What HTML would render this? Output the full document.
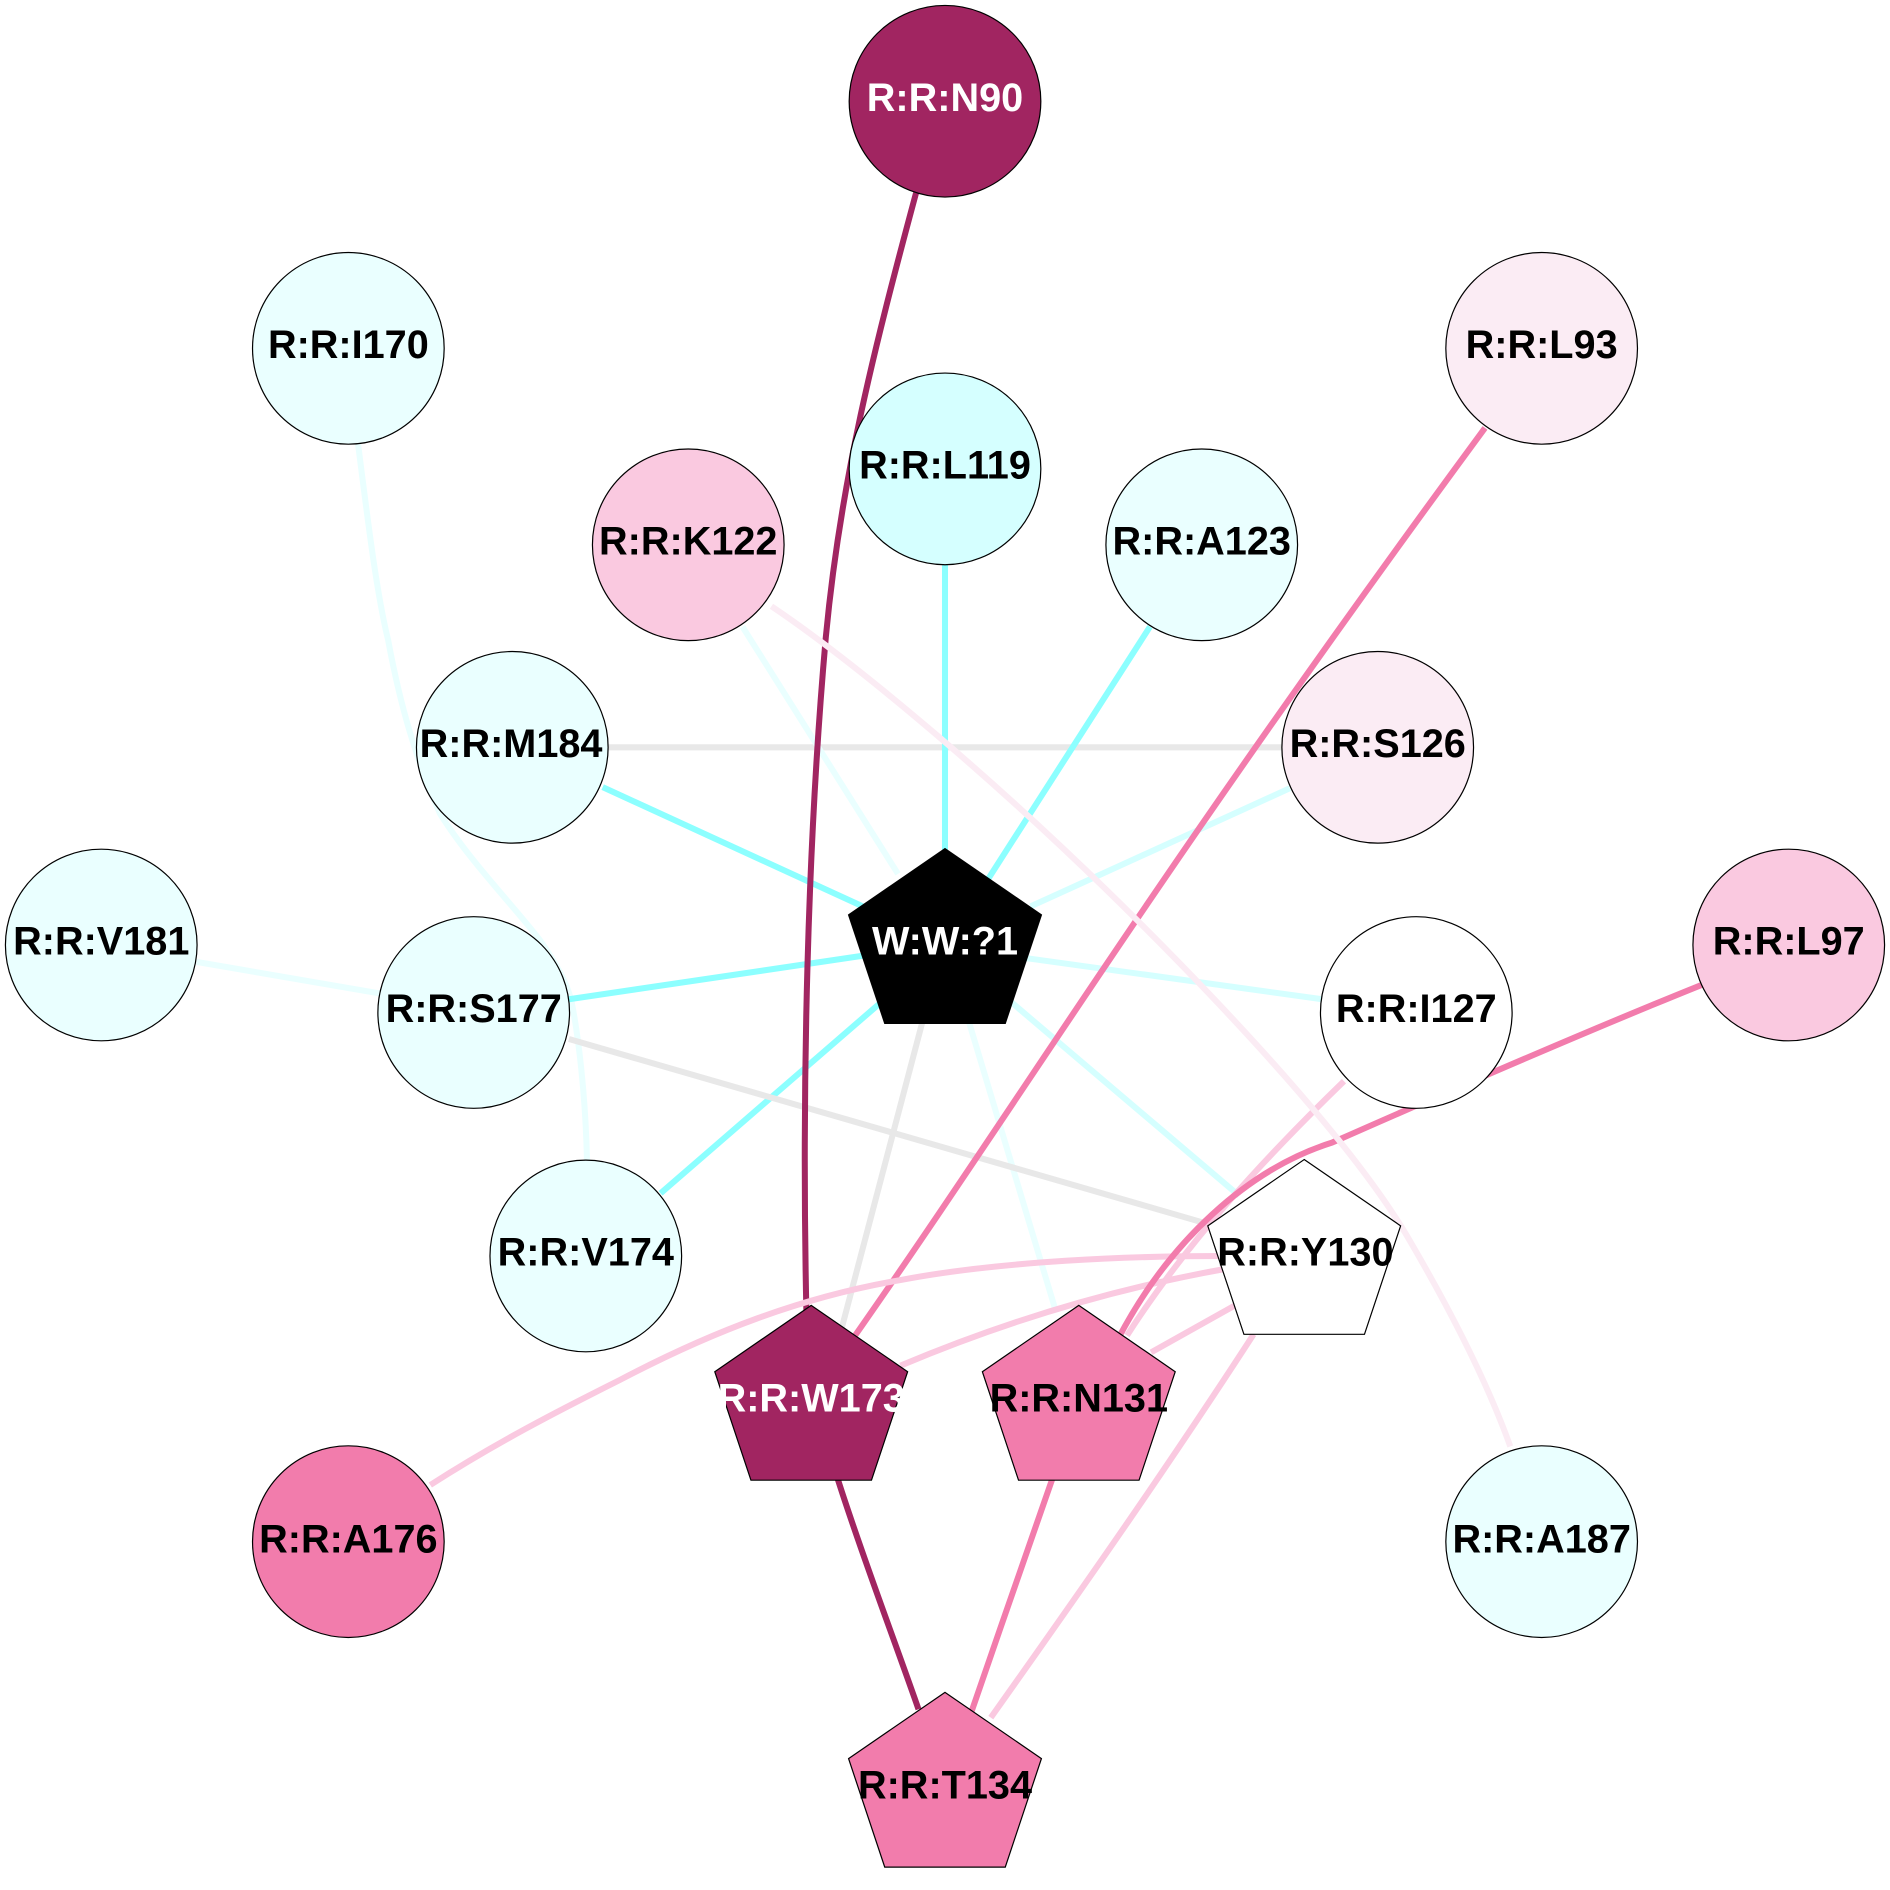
<!DOCTYPE html>
<html>
<head>
<meta charset="utf-8">
<style>
html,body{margin:0;padding:0;background:#fff}
svg{display:block}
text{font-family:"Liberation Sans",Arial,sans-serif;font-weight:bold;font-size:32.9px;text-anchor:middle;fill:#000}
.e{fill:none;stroke-width:5}
.n{stroke:#000;stroke-width:1}
</style>
</head>
<body>
<svg width="1890" height="1890" viewBox="0 0 1568 1568" xmlns="http://www.w3.org/2000/svg">
<rect width="1568" height="1568" fill="#fff"/>
<g class="edges">
<path class="e" stroke="#eaffff" d="M297,368 C305,430 312,490 322,531 C332,585 345,630 365,675 C390,715 425,750 448,780 C462,800 470,815 474,830 C480,860 486,910 487,965"/>
<path class="e" stroke="#eaffff" d="M163,798 L320,825"/>
<path class="e" stroke="#e8e8e8" d="M500,620 L1068,620"/>
<path class="e" stroke="#8cffff" d="M500,653 L718,753"/>
<path class="e" stroke="#8cffff" d="M784,468 L784,710"/>
<path class="e" stroke="#8cffff" d="M954,520 L818,732"/>
<path class="e" stroke="#eaffff" d="M616,520 L745,725"/>
<path class="e" stroke="#d5ffff" d="M1070,654 L855,752"/>
<path class="e" stroke="#8cffff" d="M472,829 L722,792"/>
<path class="e" stroke="#d5ffff" d="M1097,829 L845,794"/>
<path class="e" stroke="#8cffff" d="M548,990 L735,828"/>
<path class="e" stroke="#d5ffff" d="M835,828 L1028,992"/>
<path class="e" stroke="#eaffff" d="M803,845 L876,1088"/>
<path class="e" stroke="#e8e8e8" d="M766,845 L693,1122"/>
<path class="e" stroke="#e8e8e8" d="M472,862 L1018,1020"/>
<path class="e" stroke="#fac9e0" d="M1115,897 C1050,960 985,1030 935,1108"/>
<path class="e" stroke="#f27cac" d="M1232,355 C1140,480 1040,620 945,760 C860,885 785,1000 708,1110"/>
<path class="e" stroke="#a12561" d="M760,160 C725,290 697,400 685,530 C670,700 665,900 669,1088"/>
<path class="e" stroke="#fac9e0" d="M1015,1053 C920,1070 830,1098 747,1133"/>
<path class="e" stroke="#fac9e0" d="M1030,1080 L955,1122"/>
<path class="e" stroke="#fac9e0" d="M1015,1042 C940,1042 830,1046 747,1062 C665,1076 590,1105 514,1145 C460,1172 410,1198 357,1232"/>
<path class="e" stroke="#fac9e0" d="M1040,1107 C970,1215 900,1315 822,1425"/>
<path class="e" stroke="#f27cac" d="M1412,817 C1330,850 1225,895 1105,948 C1035,970 970,1030 928,1110"/>
<path class="e" stroke="#fbecf4" d="M640,503 C710,550 830,650 945,765 C1040,860 1130,960 1170,1030 C1205,1090 1235,1150 1253,1200"/>
<path class="e" stroke="#a12561" d="M695,1227 C715,1290 740,1355 762,1418"/>
<path class="e" stroke="#f27cac" d="M873,1227 C850,1295 828,1355 806,1420"/>
</g>
<g class="nodes">
<circle class="n" cx="784" cy="84" r="79.5" fill="#a12561"/>
<circle class="n" cx="289" cy="289" r="79.5" fill="#eaffff"/>
<circle class="n" cx="1279" cy="289" r="79.5" fill="#fbecf4"/>
<circle class="n" cx="784" cy="389" r="79.5" fill="#d5ffff"/>
<circle class="n" cx="571" cy="452" r="79.5" fill="#fac9e0"/>
<circle class="n" cx="997" cy="452" r="79.5" fill="#eaffff"/>
<circle class="n" cx="425" cy="620" r="79.5" fill="#eaffff"/>
<circle class="n" cx="1143" cy="620" r="79.5" fill="#fbecf4"/>
<circle class="n" cx="84" cy="784" r="79.5" fill="#eaffff"/>
<circle class="n" cx="1484" cy="784" r="79.5" fill="#fac9e0"/>
<circle class="n" cx="393" cy="840" r="79.5" fill="#eaffff"/>
<circle class="n" cx="1175" cy="840" r="79.5" fill="#ffffff"/>
<circle class="n" cx="486" cy="1042" r="79.5" fill="#eaffff"/>
<circle class="n" cx="289" cy="1279" r="79.5" fill="#f27cac"/>
<circle class="n" cx="1279" cy="1279" r="79.5" fill="#eaffff"/>
<polygon class="n" points="784,704 864,759 834,849 734,849 704,759" fill="#000"/>
<polygon class="n" points="1082,962 1162,1017 1132,1107 1032,1107 1002,1017" fill="#fff"/>
<polygon class="n" points="673,1083 753,1138 723,1228 623,1228 593,1138" fill="#a12561"/>
<polygon class="n" points="895,1083 975,1138 945,1228 845,1228 815,1138" fill="#f27cac"/>
<polygon class="n" points="784,1404 864,1459 834,1549 734,1549 704,1459" fill="#f27cac"/>
</g>
<g class="labels">
<text x="784" y="92" style="fill:#fff">R:R:N90</text>
<text x="289" y="297">R:R:I170</text>
<text x="1279" y="297">R:R:L93</text>
<text x="784" y="397">R:R:L119</text>
<text x="571" y="460">R:R:K122</text>
<text x="997" y="460">R:R:A123</text>
<text x="424" y="628">R:R:M184</text>
<text x="1143" y="628">R:R:S126</text>
<text x="84" y="792">R:R:V181</text>
<text x="1484" y="792">R:R:L97</text>
<text x="784" y="792" style="fill:#fff">W:W:?1</text>
<text x="393" y="848">R:R:S177</text>
<text x="1175" y="848">R:R:I127</text>
<text x="486" y="1050">R:R:V174</text>
<text x="1083" y="1050">R:R:Y130</text>
<text x="673" y="1171" style="fill:#fff">R:R:W173</text>
<text x="895" y="1171">R:R:N131</text>
<text x="289" y="1288">R:R:A176</text>
<text x="1279" y="1288">R:R:A187</text>
<text x="784" y="1492">R:R:T134</text>
</g>
</svg>
</body>
</html>
